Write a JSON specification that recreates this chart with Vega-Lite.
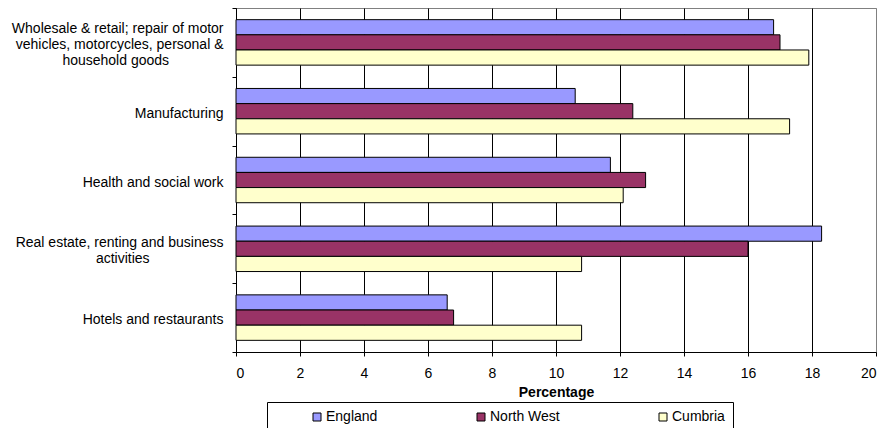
{
  "$schema": "https://vega.github.io/schema/vega-lite/v6.json",
  "width": 640,
  "height": 344,
  "autosize": {"type": "none"},
  "padding": {"left": 236, "top": 8, "right": 8, "bottom": 76},
  "background": "#ffffff",
  "config": {
    "font": "Liberation Sans",
    "view": {"stroke": "#808080", "strokeWidth": 1}
  },
  "data": {
    "values": [
      {"industry": "Wholesale & retail; repair of motor vehicles, motorcycles, personal & household goods", "region": "England", "value": 16.8},
      {"industry": "Wholesale & retail; repair of motor vehicles, motorcycles, personal & household goods", "region": "North West", "value": 17.0},
      {"industry": "Wholesale & retail; repair of motor vehicles, motorcycles, personal & household goods", "region": "Cumbria", "value": 17.9},
      {"industry": "Manufacturing", "region": "England", "value": 10.6},
      {"industry": "Manufacturing", "region": "North West", "value": 12.4},
      {"industry": "Manufacturing", "region": "Cumbria", "value": 17.3},
      {"industry": "Health and social work", "region": "England", "value": 11.7},
      {"industry": "Health and social work", "region": "North West", "value": 12.8},
      {"industry": "Health and social work", "region": "Cumbria", "value": 12.1},
      {"industry": "Real estate, renting and business activities", "region": "England", "value": 18.3},
      {"industry": "Real estate, renting and business activities", "region": "North West", "value": 16.0},
      {"industry": "Real estate, renting and business activities", "region": "Cumbria", "value": 10.8},
      {"industry": "Hotels and restaurants", "region": "England", "value": 6.6},
      {"industry": "Hotels and restaurants", "region": "North West", "value": 6.8},
      {"industry": "Hotels and restaurants", "region": "Cumbria", "value": 10.8}
    ]
  },
  "mark": {"type": "bar", "stroke": "#000000", "strokeWidth": 1},
  "encoding": {
    "y": {
      "field": "industry",
      "type": "nominal",
      "sort": null,
      "scale": {"paddingInner": 0, "paddingOuter": 0},
      "axis": {
        "title": null,
        "tickBand": "extent",
        "domainColor": "#000000",
        "tickColor": "#000000",
        "tickSize": 4,
        "labelFontSize": 14,
        "labelColor": "#000000",
        "labelLineHeight": 16,
        "labelLimit": 300,
        "labelExpr": "isValid(datum.value) ? (indexof(datum.value, 'Wholesale') == 0 ? ['Wholesale & retail; repair of motor', 'vehicles, motorcycles, personal &', 'household goods\u00a0\u00a0\u00a0\u00a0\u00a0\u00a0\u00a0\u00a0\u00a0\u00a0\u00a0\u00a0\u00a0\u00a0\u200b'] : (indexof(datum.value, 'Real estate') == 0 ? ['Real estate, renting and business', 'activities\u00a0\u00a0\u00a0\u00a0\u00a0\u00a0\u00a0\u00a0\u00a0\u00a0\u00a0\u00a0\u00a0\u00a0\u00a0\u00a0\u00a0\u00a0\u00a0\u200b'] : datum.value)) : ''",
        "labelAlign": "right",
        "labelPadding": 9,
        "labelOffset": {
          "condition": [
            {"test": "isValid(datum.value) && indexof(datum.value, 'Wholesale') == 0", "value": -14},
            {"test": "isValid(datum.value) && indexof(datum.value, 'Real estate') == 0", "value": -6}
          ],
          "value": 2
        }
      }
    },
    "yOffset": {
      "field": "region",
      "type": "nominal",
      "sort": ["England", "North West", "Cumbria"],
      "scale": {"paddingInner": 0, "paddingOuter": 0.77}
    },
    "x": {
      "field": "value",
      "type": "quantitative",
      "scale": {"domain": [0, 20], "nice": false},
      "axis": {
        "title": "Percentage",
        "titleFontSize": 14,
        "titleFontWeight": "bold",
        "titleColor": "#000000",
        "titlePadding": 5,
        "values": [0, 2, 4, 6, 8, 10, 12, 14, 16, 18, 20],
        "labelFontSize": 14,
        "labelColor": "#000000",
        "labelPadding": 10,
        "tickSize": 4,
        "tickColor": "#000000",
        "domainColor": "#000000",
        "grid": true,
        "gridColor": {"condition": {"test": "datum.value == 20", "value": "#808080"}, "value": "#000000"},
        "gridWidth": 1
      }
    },
    "color": {
      "field": "region",
      "type": "nominal",
      "sort": ["England", "North West", "Cumbria"],
      "scale": {"domain": ["England", "North West", "Cumbria"], "range": ["#9999FF", "#993366", "#FFFFCC"]},
      "legend": {
        "title": null,
        "orient": "none",
        "direction": "horizontal",
        "legendX": 31,
        "legendY": 394,
        "padding": 8,
        "symbolOffset": 35,
        "strokeColor": "#000000",
        "fillColor": "#ffffff",
        "symbolType": "square",
        "symbolSize": 64,
        "symbolStrokeColor": "#000000",
        "symbolStrokeWidth": 1,
        "symbolOpacity": 1,
        "labelFontSize": 14,
        "labelColor": "#000000",
        "labelOffset": 2,
        "columnPadding": 61
      }
    }
  }
}
